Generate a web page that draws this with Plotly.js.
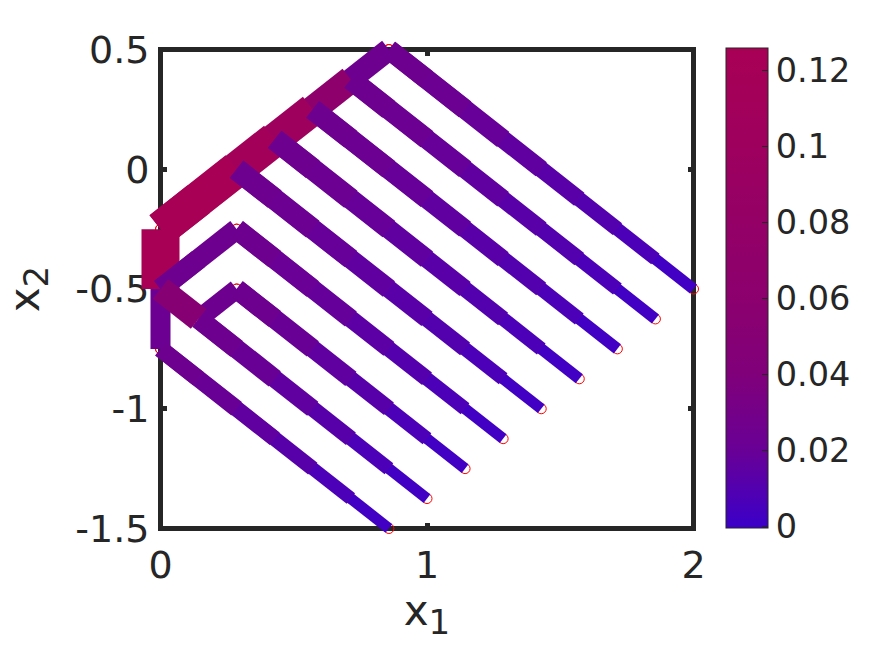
<!DOCTYPE html>
<html><head><meta charset="utf-8">
<script src="https://cdn.plot.ly/plotly-3.0.1.min.js"></script>
<style>html,body{margin:0;padding:0;background:#fff}#chart{width:881px;height:653px}</style>
</head><body><div id="chart"></div>
<script>
// ---- data ----
const xTickVals = [0, 1, 2];
const xTickText = ['0', '1', '2'];
const yTickVals = [-1.5, -1, -0.5, 0, 0.5];
const yTickText = ['-1.5', '-1', '-0.5', '0', '0.5'];
const cTickVals = [0, 0.02, 0.04, 0.06, 0.08, 0.1, 0.12];
const cTickText = ['0', '0.02', '0.04', '0.06', '0.08', '0.1', '0.12'];
const colorStops = [[0, 'rgb(60,0,200)'], [0.02, 'rgb(105,0,150)'], [0.04, 'rgb(128,0,122)'], [0.06, 'rgb(140,0,110)'], [0.08, 'rgb(148,0,102)'], [0.1, 'rgb(158,0,94)'], [0.1258, 'rgb(168,0,85)']];

const vertAX = [0, 0];       const vertAY = [-0.25, -0.5];  const vertAV = [0.125];  const vertAW = [38];
const vertBX = [0, 0];       const vertBY = [-0.5, -0.75];  const vertBV = [0.022];  const vertBW = [20];
const chordX = [0, 0.1429, 0.2857, 0.4286, 0.5714, 0.7143, 0.8571];
const chordY = [-0.25, -0.125, 0, 0.125, 0.25, 0.375, 0.5];
const chordV = [0.125, 0.125, 0.112, 0.1, 0.065, 0.024];
const chordW = [35.5, 35.5, 34.5, 32, 27, 22];
const upAX = [0, 0.1429, 0.2857];  const upAY = [-0.5, -0.375, -0.25];  const upAV = [0.024, 0.024];  const upAW = [20.5, 20.5];
const upBX = [0.1429, 0.2857];     const upBY = [-0.625, -0.5];         const upBV = [0.024];         const upBW = [19];
const shortX = [0, 0.1429];        const shortY = [-0.5, -0.625];       const shortV = [0.05];        const shortW = [25];

const d1X = [0.8571, 1, 1.1429, 1.2857, 1.4286, 1.5714, 1.7143, 1.8571, 2];
const d1Y = [0.5, 0.375, 0.25, 0.125, 0, -0.125, -0.25, -0.375, -0.5];
const d1V = [0.024, 0.022, 0.019, 0.016, 0.013, 0.01, 0.007, 0.002];
const d1W = [20, 20, 19.5, 18, 16.5, 15, 13.5, 11.5];
const d2X = [0.7143, 0.8571, 1, 1.1429, 1.2857, 1.4286, 1.5714, 1.7143, 1.8571];
const d2Y = [0.375, 0.25, 0.125, 0, -0.125, -0.25, -0.375, -0.5, -0.625];
const d2V = [0.024, 0.022, 0.019, 0.016, 0.013, 0.01, 0.007, 0.002];
const d2W = [21, 20.5, 19.5, 18.5, 17, 15.5, 14, 11.5];
const d3X = [0.5714, 0.7143, 0.8571, 1, 1.1429, 1.2857, 1.4286, 1.5714, 1.7143];
const d3Y = [0.25, 0.125, 0, -0.125, -0.25, -0.375, -0.5, -0.625, -0.75];
const d3V = [0.024, 0.022, 0.019, 0.016, 0.013, 0.01, 0.007, 0.002];
const d3W = [21, 20.5, 20, 19, 17.5, 16, 14, 11.5];
const d4X = [0.4286, 0.5714, 0.7143, 0.8571, 1, 1.1429, 1.2857, 1.4286, 1.5714];
const d4Y = [0.125, 0, -0.125, -0.25, -0.375, -0.5, -0.625, -0.75, -0.875];
const d4V = [0.024, 0.022, 0.019, 0.016, 0.013, 0.01, 0.007, 0.002];
const d4W = [22, 21.5, 20.5, 19.5, 18, 16, 14, 11.5];
const d5X = [0.2857, 0.4286, 0.5714, 0.7143, 0.8571, 1, 1.1429, 1.2857, 1.4286];
const d5Y = [0, -0.125, -0.25, -0.375, -0.5, -0.625, -0.75, -0.875, -1];
const d5V = [0.024, 0.022, 0.019, 0.016, 0.013, 0.01, 0.007, 0.002];
const d5W = [22, 21.5, 20.5, 19.5, 18, 16, 14, 11];
const d6X = [0.2857, 0.4286, 0.5714, 0.7143, 0.8571, 1, 1.1429, 1.2857];
const d6Y = [-0.25, -0.375, -0.5, -0.625, -0.75, -0.875, -1, -1.125];
const d6V = [0.024, 0.021, 0.018, 0.014, 0.011, 0.007, 0.002];
const d6W = [20.5, 20, 19, 17.5, 16, 14, 11];
const d7X = [0.2857, 0.4286, 0.5714, 0.7143, 0.8571, 1, 1.1429];
const d7Y = [-0.5, -0.625, -0.75, -0.875, -1, -1.125, -1.25];
const d7V = [0.024, 0.02, 0.016, 0.012, 0.007, 0.002];
const d7W = [20, 19.5, 18, 16, 14, 11];
const d8X = [0.1429, 0.2857, 0.4286, 0.5714, 0.7143, 0.8571, 1];
const d8Y = [-0.625, -0.75, -0.875, -1, -1.125, -1.25, -1.375];
const d8V = [0.024, 0.02, 0.016, 0.012, 0.007, 0.002];
const d8W = [20, 19.5, 18, 16, 14, 11];
const d9X = [0, 0.1429, 0.2857, 0.4286, 0.5714, 0.7143, 0.8571];
const d9Y = [-0.75, -0.875, -1, -1.125, -1.25, -1.375, -1.5];
const d9V = [0.024, 0.02, 0.016, 0.012, 0.007, 0.002];
const d9W = [17, 17, 16, 15, 13.5, 11];

const paths = [
  [vertBX, vertBY, vertBV, vertBW],
  [vertAX, vertAY, vertAV, vertAW],
  [chordX, chordY, chordV, chordW],
  [upAX, upAY, upAV, upAW],
  [upBX, upBY, upBV, upBW],
  [d9X, d9Y, d9V, d9W],
  [d8X, d8Y, d8V, d8W],
  [d7X, d7Y, d7V, d7W],
  [d6X, d6Y, d6V, d6W],
  [d5X, d5Y, d5V, d5W],
  [d4X, d4Y, d4V, d4W],
  [d3X, d3Y, d3V, d3W],
  [d2X, d2Y, d2V, d2W],
  [d1X, d1Y, d1V, d1W],
  [shortX, shortY, shortV, shortW]
];

function parse(c) { return c.match(/\d+/g).map(Number); }
function colorOf(v) {
  for (let i = 1; i < colorStops.length; i++) {
    if (v <= colorStops[i][0]) {
      const a = colorStops[i - 1], b = colorStops[i];
      const t = (v - a[0]) / (b[0] - a[0]);
      const p = parse(a[1]), q = parse(b[1]);
      return 'rgb(' + p.map((u, k) => Math.round(u + (q[k] - u) * t)).join(',') + ')';
    }
  }
  return colorStops[colorStops.length - 1][1];
}

const cMin = -0.00045, cMax = 0.1258;
const scale = colorStops.map(s => [(s[0] - cMin) / (cMax - cMin), s[1]]);
scale.unshift([0, colorStops[0][1]]);

const W = 881, H = 653;
const frame = {l: 160.5, r: 693.5, t: 49.5, b: 528.5};
const outer = {l: 120, r: 720, t: 20, b: 560};
const pxX = (frame.r - frame.l) / 2, pxY = (frame.b - frame.t) / 2;

const traces = [];
const nodeX = [], nodeY = [];
paths.forEach(p => { p[0].forEach((x, i) => { nodeX.push(x); nodeY.push(p[1][i]); }); });
traces.push({type: 'scatter', mode: 'markers', xaxis: 'x2', yaxis: 'y2', x: nodeX, y: nodeY, cliponaxis: false, hoverinfo: 'skip',
  marker: {symbol: 'circle-open', size: 10, color: '#ff0000', line: {width: 1, color: '#ff0000'}}});
// Each path is drawn tip-first; every bar also runs under its wider neighbour,
// which is painted over it, so no seam shows at the joints.
paths.forEach(p => {
  for (let i = p[2].length - 1; i >= 0; i--) {
    const from = Math.max(i - 1, 0);
    traces.push({type: 'scatter', mode: 'lines', xaxis: 'x2', yaxis: 'y2',
      x: p[0].slice(from, i + 2), y: p[1].slice(from, i + 2),
      line: {color: colorOf(p[2][i]), width: p[3][i]}});
  }
});
traces.push({type: 'scatter', mode: 'markers', x: [1], y: [-0.5], hoverinfo: 'skip',
  marker: {size: 1, opacity: 0, color: [0], cmin: cMin, cmax: cMax, colorscale: scale, showscale: true,
    colorbar: {x: (725.5 - outer.l) / (outer.r - outer.l), xanchor: 'left', xpad: 0,
      y: (outer.b - 288) / (outer.b - outer.t), yanchor: 'middle', ypad: 0, lenmode: 'pixels', len: 480, thicknessmode: 'pixels', thickness: 42,
      outlinecolor: '#262626', outlinewidth: 1, ticks: 'inside', ticklen: 6, tickwidth: 1, tickcolor: '#262626',
      tickmode: 'array', tickvals: cTickVals, ticktext: cTickText,
      tickfont: {family: 'DejaVu Sans', size: 33.5, color: '#262626'}}}});

const axBase = {showgrid: false, zeroline: false, showline: false, ticks: 'inside', ticklen: 6, tickwidth: 5,
  tickcolor: '#262626', mirror: 'allticks', layer: 'below traces', tickmode: 'array',
  tickfont: {family: 'DejaVu Sans', size: 38, color: '#262626'}};
const titleFont = {family: 'DejaVu Sans', size: 42, color: '#262626'};

const layout = {
  width: W, height: H, showlegend: false, paper_bgcolor: '#fff', plot_bgcolor: 'rgba(0,0,0,0)',
  margin: {l: outer.l, r: W - outer.r, t: outer.t, b: H - outer.b, pad: 0},
  xaxis: Object.assign({}, axBase, {anchor: 'y', range: [0, 2],
    domain: [(frame.l - outer.l) / (outer.r - outer.l), (frame.r - outer.l) / (outer.r - outer.l)],
    tickvals: xTickVals, ticktext: xTickText, ticklabelstandoff: 10,
    title: {text: 'x<sub><span style="font-size:34px">1</span></sub>', standoff: 6, font: titleFont}}),
  yaxis: Object.assign({}, axBase, {anchor: 'x', range: [-1.5, 0.5],
    domain: [(outer.b - frame.b) / (outer.b - outer.t), (outer.b - frame.t) / (outer.b - outer.t)],
    tickvals: yTickVals, ticktext: yTickText, ticklabelstandoff: 10,
    title: {text: 'x<sub><span style="font-size:34px">2</span></sub>', standoff: 22, font: titleFont}}),
  xaxis2: {anchor: 'y2', visible: false, domain: [0, 1], fixedrange: true,
    range: [(outer.l - frame.l) / pxX, (outer.r - frame.l) / pxX]},
  yaxis2: {anchor: 'x2', visible: false, domain: [0, 1], fixedrange: true,
    range: [0.5 - (outer.b - frame.t) / pxY, 0.5 + (frame.t - outer.t) / pxY]},
  shapes: [{type: 'rect', layer: 'below', xref: 'x2', yref: 'y2', x0: 0, x1: 2, y0: -1.5, y1: 0.5,
    line: {color: '#262626', width: 5}, fillcolor: 'rgba(0,0,0,0)'}]
};
Plotly.newPlot('chart', traces, layout, {displayModeBar: false, staticPlot: true});
</script></body></html>
